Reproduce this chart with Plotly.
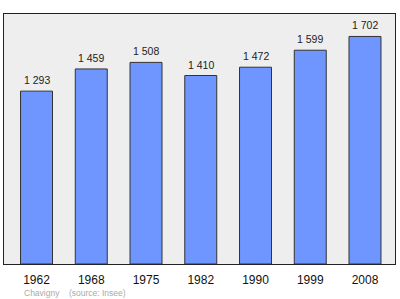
import plotly.graph_objects as go

years = ["1962", "1968", "1975", "1982", "1990", "1999", "2008"]
population = [1293, 1459, 1508, 1410, 1472, 1599, 1702]
labels = ["1 293", "1 459", "1 508", "1 410", "1 472", "1 599", "1 702"]

fig = go.Figure()
fig.add_trace(go.Bar(
    x=years, y=population, width=0.584,
    marker=dict(color="#6f96ff", line=dict(color="#333333", width=1)),
    hoverinfo="skip",
))
for i, (v, t) in enumerate(zip(population, labels)):
    fig.add_annotation(x=i, y=v, text=t, showarrow=False, yanchor="bottom",
                       yshift=3, font=dict(size=10.5, color="#222222"))

fig.add_annotation(xref="paper", yref="paper", x=0.045, y=-0.115, xanchor="left",
                   yanchor="middle", showarrow=False,
                   text="Chavigny\u00a0\u00a0\u00a0\u00a0(source: Insee)",
                   font=dict(size=8.5, color="#aaaaaa"))

fig.update_layout(
    width=400, height=299,
    margin=dict(l=4, r=5, t=14, b=35),
    paper_bgcolor="white", plot_bgcolor="#eeeeee",
    font=dict(family="Liberation Sans, Arial, sans-serif"),
    showlegend=False,
    xaxis=dict(type="category", range=[-0.594, 6.548], showline=True, mirror=True,
               linecolor="#222222", linewidth=1, ticks="", showgrid=False,
               ticklabelstandoff=5, tickfont=dict(size=12, color="#111111")),
    yaxis=dict(range=[0, 1870], showline=True, mirror=True, linecolor="#222222",
               linewidth=1, showticklabels=False, ticks="", showgrid=False, zeroline=False),
)
fig.write_html("out.html")
